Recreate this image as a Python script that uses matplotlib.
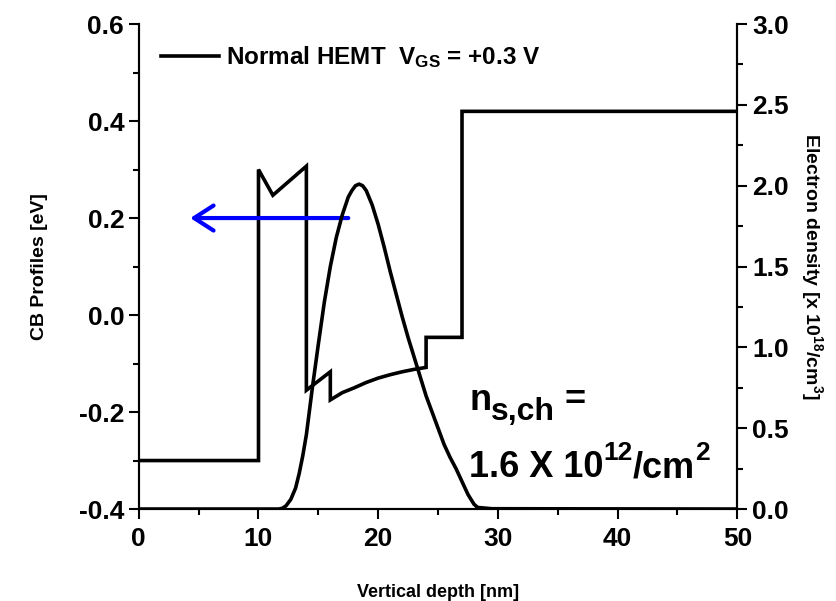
import matplotlib
matplotlib.use("Agg")
import matplotlib.pyplot as plt
from matplotlib.ticker import MultipleLocator
from matplotlib.lines import Line2D
from matplotlib.transforms import ScaledTranslation

plt.rcParams['font.family'] = ['Liberation Sans', 'DejaVu Sans']
plt.rcParams['font.weight'] = 'bold'
plt.rcParams['mathtext.fontset'] = 'custom'
plt.rcParams['mathtext.rm'] = 'Liberation Sans:bold'
plt.rcParams['mathtext.bf'] = 'Liberation Sans:bold'
plt.rcParams['mathtext.it'] = 'Liberation Sans:bold'

# Conduction band profile (eV) vs depth (nm)
cb_depth = [0, 10, 10, 11.2, 14, 14, 16, 16, 17, 18, 19, 20, 21, 22, 23, 24, 24, 27, 27, 50]
cb_energy = [-0.3, -0.3, 0.30, 0.247, 0.307, -0.155, -0.117, -0.175, -0.160, -0.150,
             -0.139, -0.130, -0.123, -0.117, -0.112, -0.108, -0.046, -0.046, 0.42, 0.42]

# Electron density (1e18 /cm^3) vs depth (nm)
n_depth = [0, 11.7, 12.0, 12.3, 12.7, 13.1, 13.4, 13.7, 14.0, 14.5, 15.0, 15.5, 16.0,
           16.5, 17.0, 17.5, 17.8, 18.1, 18.4, 18.7, 19.0, 19.5, 20.0, 20.5, 21.0,
           21.5, 22.0, 22.5, 23.0, 23.5, 24.0, 24.5, 25.0, 25.5, 26.0, 26.5, 27.0,
           27.5, 28.0, 28.3, 29.5, 50]
n_density = [0, 0, 0.005, 0.02, 0.06, 0.13, 0.22, 0.33, 0.46, 0.75, 1.02, 1.28, 1.50,
             1.68, 1.82, 1.93, 1.97, 2.00, 2.01, 2.00, 1.97, 1.88, 1.76, 1.62, 1.47,
             1.33, 1.19, 1.06, 0.94, 0.82, 0.70, 0.60, 0.50, 0.40, 0.32, 0.25, 0.17,
             0.09, 0.03, 0.01, 0.002, 0]

legend_label = r'Normal HEMT  V$_{\mathbf{GS}}$ = +0.3 V'
# annotation pieces: (text, fontsize, vertical offset in points)
annot_line1 = [('n', 26, 0), ('s,ch', 23, -7.2), (' =', 26, 0)]
annot_line2 = [('1.6 X 10', 26, 0), ('12', 19, 12), ('/cm', 26, 0), ('2', 19, 12)]

fig = plt.figure(figsize=(8.36, 6.01), dpi=100)
ax = fig.add_axes([0.166, 0.153, 0.716, 0.807])
ax2 = ax.twinx()

ax.plot(cb_depth, cb_energy, color='black', lw=2.6, solid_joinstyle='miter')
ax2.plot(n_depth, n_density, color='black', lw=2.6)

ax.set_xlim(0, 50)
ax.set_ylim(-0.4, 0.6)
ax2.set_ylim(0, 3.0)

ax.xaxis.set_major_locator(MultipleLocator(10))
ax.xaxis.set_minor_locator(MultipleLocator(5))
ax.yaxis.set_major_locator(MultipleLocator(0.2))
ax.yaxis.set_minor_locator(MultipleLocator(0.1))
ax2.yaxis.set_major_locator(MultipleLocator(0.5))
ax2.yaxis.set_minor_locator(MultipleLocator(0.25))

for a in (ax, ax2):
    a.spines['top'].set_visible(False)
    for s in a.spines.values():
        s.set_linewidth(1.5)
    a.tick_params(which='major', direction='out', length=7, width=1.5, labelsize=19)
    a.tick_params(which='minor', direction='out', length=4, width=1.5)
ax.tick_params(axis='x', pad=6)

ax.set_yticks(ax.get_yticks())
ax.set_yticklabels([f'{v:.1f}' for v in ax.get_yticks()])
ax.set_ylim(-0.4, 0.6)
ax.set_xlabel('Vertical depth [nm]', fontsize=13, fontweight='bold', labelpad=24)
ax.set_ylabel('CB Profiles [eV]', fontsize=14, fontweight='bold', labelpad=22)
ax2.set_ylabel(r'Electron density [x 10$^{\mathbf{18}}$/cm$^{\mathbf{3}}$]',
               fontsize=14, fontweight='bold', rotation=270, labelpad=26)

ax.annotate('', xy=(4.3, 0.2), xytext=(17.5, 0.2),
            arrowprops=dict(arrowstyle='->,head_length=0.7,head_width=0.45',
                            color='blue', lw=3, mutation_scale=20,
                            shrinkA=0, shrinkB=0))

handle = Line2D([], [], color='black', lw=2.6)
ax.legend([handle], [legend_label], loc='center left', frameon=False,
          prop={'size': 17.5, 'weight': 'bold'}, handlelength=2.4,
          handletextpad=0.29, borderpad=0, borderaxespad=0,
          bbox_to_anchor=(0.037, 0.932))

renderer = fig.canvas.get_renderer()


def draw_pieces(x, y, pieces):
    off = 0.0
    for s, size, dy in pieces:
        tr = ax.transData + ScaledTranslation(off / 72.0, dy / 72.0, fig.dpi_scale_trans)
        t = ax.text(x, y, s, fontsize=size, fontweight='bold', va='baseline',
                    ha='left', transform=tr)
        bb = t.get_window_extent(renderer)
        off += bb.width * 72.0 / fig.dpi


draw_pieces(27.6, -0.196, annot_line1)
draw_pieces(27.6, -0.334, annot_line2)

fig.savefig('out.png', dpi=100)
